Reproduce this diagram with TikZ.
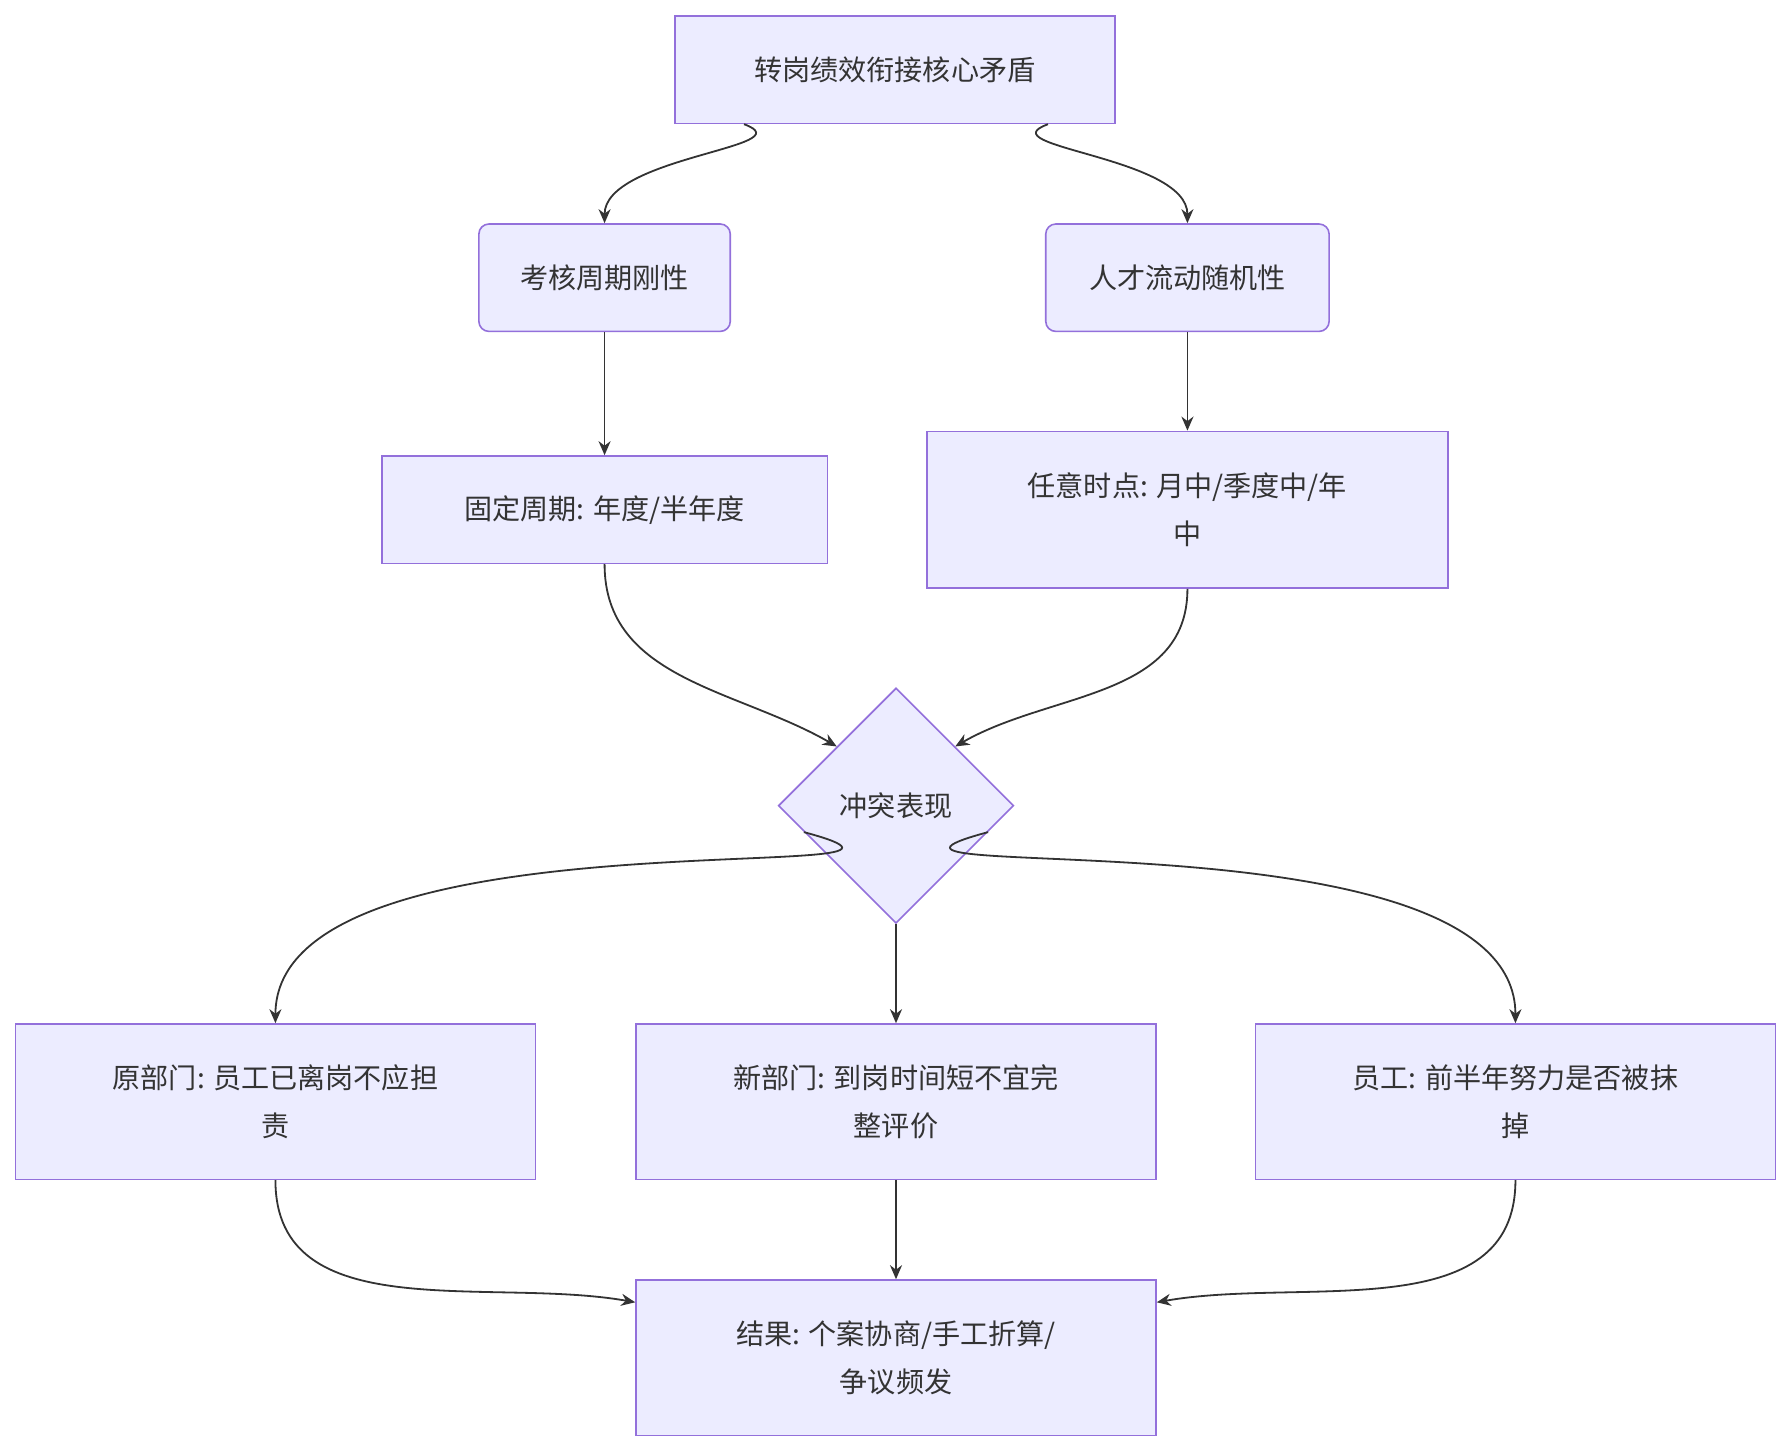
\documentclass[tikz,border=0pt]{standalone}
\usepackage{fontspec}
\setmainfont{Noto Sans CJK SC}
\usetikzlibrary{shapes.geometric,arrows.meta}

\tikzset{
  box/.style={draw=boxline, fill=boxfill, line width=0.8pt, align=center,
    font=\fontsize{14}{24}\selectfont, text=textc, inner sep=0pt},
  rbox/.style={box, rounded corners=5pt},
  flow/.style={draw=arrowc, line width=0.9pt, -{Stealth[length=7pt,width=6pt]}},
}
\definecolor{boxfill}{HTML}{ECECFF}
\definecolor{boxline}{HTML}{9370DB}
\definecolor{arrowc}{HTML}{333333}
\definecolor{textc}{HTML}{333333}

\begin{document}
\begin{tikzpicture}[x=0.02cm, y=-0.02cm]
  \useasboundingbox (0,0) rectangle (1568,1270);
  % upper part
  \node[box, minimum width=7.7cm, minimum height=1.88cm] (core) at (783,61) {转岗绩效衔接核心矛盾};
  \node[rbox, minimum width=4.4cm, minimum height=1.88cm] (rigid) at (529,243) {考核周期刚性};
  \node[rbox, minimum width=4.96cm, minimum height=1.88cm] (random) at (1039,243) {人才流动随机性};
  \node[box, minimum width=7.8cm, minimum height=1.88cm] (fixed) at (529,446) {固定周期: 年度/半年度};
  \node[box, minimum width=9.12cm, minimum height=2.74cm] (any) at (1039,446) {任意时点: 月中/季度中/年\\中};
  \node[diamond, aspect=1, draw=boxline, fill=boxfill, line width=0.8pt, inner sep=0pt,
    minimum width=4.12cm, minimum height=4.12cm, font=\fontsize{14}{24}\selectfont, text=textc] (conflict) at (784,705) {冲突表现};
  % lower part
  \node[box, minimum width=9.1cm, minimum height=2.72cm] (olddep) at (241,964) {原部门: 员工已离岗不应担\\责};
  \node[box, minimum width=9.1cm, minimum height=2.72cm] (newdep) at (784,964) {新部门: 到岗时间短不宜完\\整评价};
  \node[box, minimum width=9.1cm, minimum height=2.72cm] (staff) at (1326,964) {员工: 前半年努力是否被抹\\掉};
  \node[box, minimum width=9.1cm, minimum height=2.72cm] (result) at (784,1188) {结果: 个案协商/手工折算/\\争议频发};

  \draw[flow] ([xshift=-2.64cm]core.south) to[out=-20, in=90] (rigid.north);
  \draw[flow] ([xshift=2.68cm]core.south) to[out=-160, in=90] (random.north);
  \draw[flow] (rigid) -- (fixed);
  \draw[flow] (random) -- (any);
  \draw[flow] (fixed.south) to[out=-90, in=150] (conflict.north west);
  \draw[flow] (any.south) to[out=-90, in=30] (conflict.north east);
  \draw[flow] (conflict.196) to[out=-15, in=90] (olddep.north);
  \draw[flow] (conflict) -- (newdep);
  \draw[flow] (conflict.-16) to[out=-165, in=90] (staff.north);
  \draw[flow] (olddep.south) to[out=-90, in=170] (result.168);
  \draw[flow] (newdep) -- (result);
  \draw[flow] (staff.south) to[out=-90, in=10] (result.12);
\end{tikzpicture}
\end{document}
